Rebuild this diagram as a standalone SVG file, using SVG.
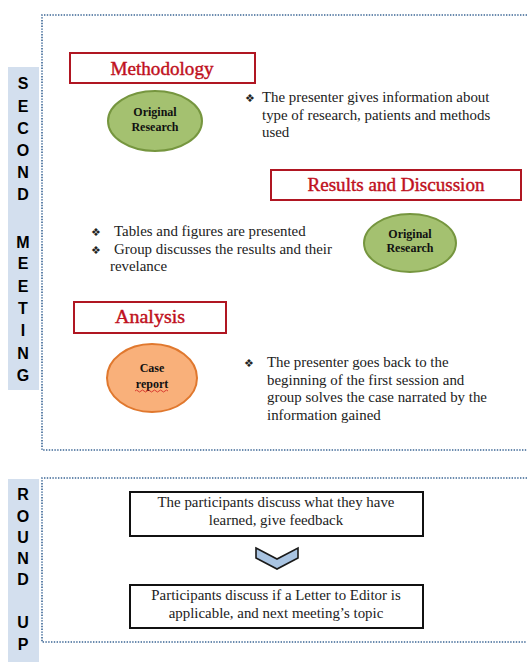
<svg xmlns="http://www.w3.org/2000/svg" width="527" height="662" viewBox="0 0 527 662">
<style>
.frame{fill:none;stroke:#3a6594;stroke-width:1.6;stroke-dasharray:1.4 1.4}
.side{fill:#d3dfee}
.sideT{font-family:'Liberation Sans',Arial,sans-serif;font-weight:bold;font-size:16px;fill:#000;text-anchor:middle}
.hbox{fill:#fff;stroke:#b01622;stroke-width:2}
.htxt{font-family:'Liberation Serif','Times New Roman',serif;font-size:18px;fill:#c01020;stroke:#c01020;stroke-width:0.4;text-anchor:middle}
.green{fill:#a4c170;stroke:#76963f;stroke-width:2}
.orange{fill:#f9b07a;stroke:#e0782e;stroke-width:2}
.etxt{font-family:'Liberation Serif','Times New Roman',serif;font-weight:bold;font-size:12px;fill:#111;text-anchor:middle}
.body{font-family:'Liberation Serif','Times New Roman',serif;font-size:14.9px;fill:#222}
.mid{text-anchor:middle}
.bul{font-family:'DejaVu Sans',sans-serif;font-size:11px;fill:#222}
.rbox{fill:#fff;stroke:#111;stroke-width:2}
.chev{fill:#a9c4e2;stroke:#1a1a1a;stroke-width:1.6}
</style>
<rect width="527" height="662" fill="#fff"/>

<g id="second-meeting-frame">
<path class="frame" d="M527 15 H42 V450 H527"/>
<rect class="side" x="8" y="67" width="31" height="323"/>
<g class="sideT">
<text x="23" y="89">S</text><text x="23" y="112">E</text><text x="23" y="134">C</text><text x="23" y="156">O</text><text x="23" y="178">N</text><text x="23" y="200">D</text>
<text x="23" y="248">M</text><text x="23" y="269">E</text><text x="23" y="292">E</text><text x="23" y="314">T</text><text x="23" y="336">I</text><text x="23" y="359">N</text><text x="23" y="381">G</text>
</g>
</g>

<g id="methodology">
<rect class="hbox" x="70" y="53" width="185" height="30"/>
<text class="htxt" x="162" y="75" textLength="103" lengthAdjust="spacingAndGlyphs">Methodology</text>
</g>

<g id="original-research-1">
<ellipse class="green" cx="155" cy="121" rx="47" ry="30"/>
<text class="etxt" x="155" y="116">Original</text>
<text class="etxt" x="155" y="131">Research</text>
</g>

<g id="methodology-note">
<text class="bul" x="245" y="102">❖</text>
<text class="body" x="262" y="102">The presenter gives information about</text>
<text class="body" x="262" y="120">type of research, patients and methods</text>
<text class="body" x="262" y="137">used</text>
</g>

<g id="results-discussion">
<rect class="hbox" x="271" y="170" width="250" height="30"/>
<text class="htxt" x="396" y="191" textLength="177" lengthAdjust="spacingAndGlyphs">Results and Discussion</text>
</g>

<g id="original-research-2">
<ellipse class="green" cx="410" cy="243" rx="46" ry="29"/>
<text class="etxt" x="410" y="238">Original</text>
<text class="etxt" x="410" y="252">Research</text>
</g>

<g id="results-note">
<text class="bul" x="91" y="236">❖</text>
<text class="body" x="114" y="236">Tables and figures are presented</text>
<text class="bul" x="91" y="254">❖</text>
<text class="body" x="114" y="254">Group discusses the results and their</text>
<text class="body" x="110" y="271">revelance</text>
</g>

<g id="analysis">
<rect class="hbox" x="74" y="302" width="152" height="31"/>
<text class="htxt" x="150" y="323" textLength="70" lengthAdjust="spacingAndGlyphs">Analysis</text>
</g>

<g id="case-report">
<ellipse class="orange" cx="152" cy="378" rx="45" ry="34"/>
<text class="etxt" x="152" y="372">Case</text>
<text class="etxt" x="152" y="388">report</text>
<path d="M135 391 q1.5 -2 3 0 t3 0 t3 0 t3 0 t3 0 t3 0 t3 0 t3 0 t3 0 t3 0 t3 0" fill="none" stroke="#d02020" stroke-width="0.8"/>
</g>

<g id="analysis-note">
<text class="bul" x="244" y="367">❖</text>
<text class="body" x="267" y="367">The presenter goes back to the</text>
<text class="body" x="267" y="385">beginning of the first session and</text>
<text class="body" x="267" y="402">group solves the case narrated by the</text>
<text class="body" x="267" y="420">information gained</text>
</g>

<g id="round-up-frame">
<path class="frame" d="M527 478 H42 V642 H527"/>
<rect class="side" x="8" y="479" width="31" height="183"/>
<g class="sideT">
<text x="23" y="500">R</text><text x="23" y="522">O</text><text x="23" y="543">U</text><text x="23" y="564">N</text><text x="23" y="585">D</text>
<text x="23" y="628">U</text><text x="23" y="650">P</text>
</g>
</g>

<g id="feedback">
<rect class="rbox" x="130" y="492" width="293" height="44"/>
<text class="body mid" x="276" y="507">The participants discuss what they have</text>
<text class="body mid" x="276" y="525">learned, give feedback</text>
</g>

<g id="letter-to-editor">
<rect class="rbox" x="130" y="585" width="293" height="43"/>
<text class="body mid" x="276" y="600">Participants discuss if a Letter to Editor is</text>
<text class="body mid" x="276" y="618">applicable, and next meeting’s topic</text>
</g>

<g id="connectors">
<path class="chev" d="M256 548 L277 559 L298 548 L298 558 L277 569 L256 558 Z"/>
</g>
</svg>
